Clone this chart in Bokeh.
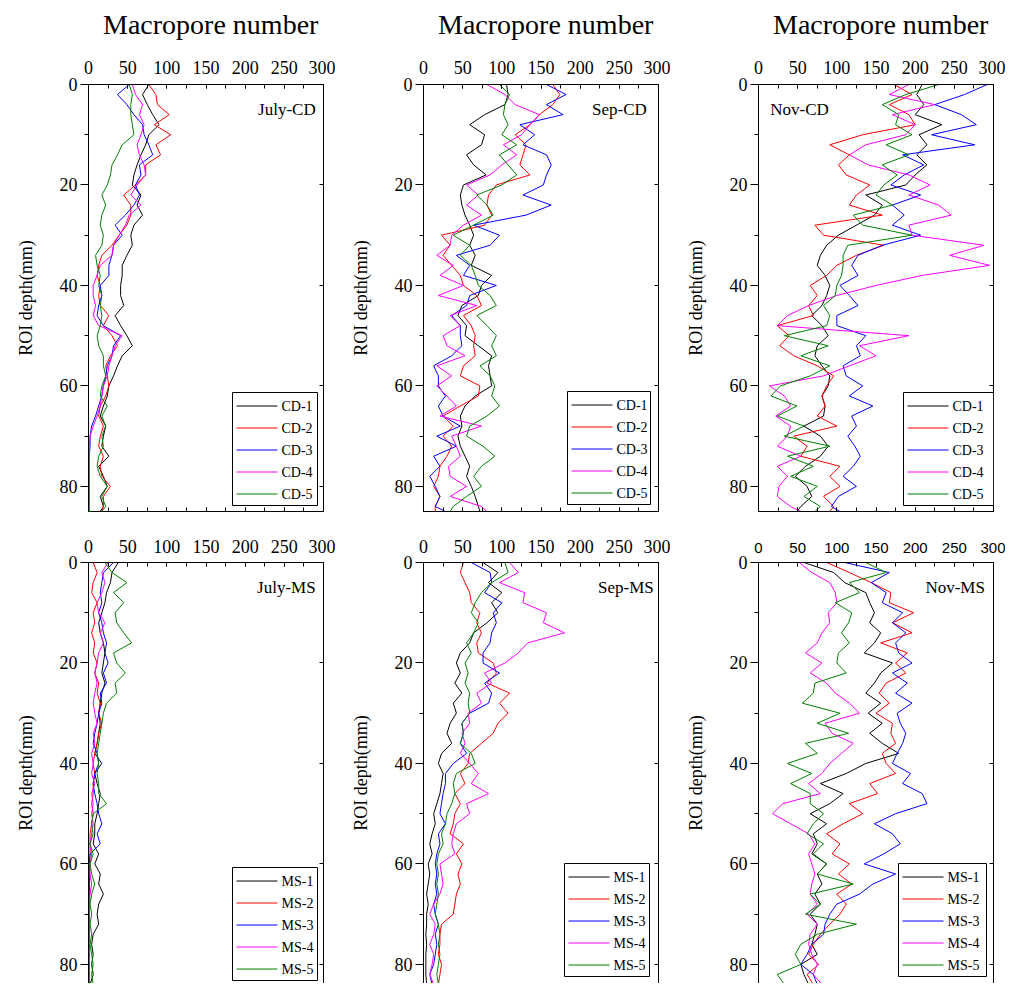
from bokeh.plotting import figure
from bokeh.models import (Range1d, LinearAxis, SingleIntervalTicker, Label,
                          CustomJSTickFormatter, BoxAnnotation, Arrow)
from bokeh.layouts import column, row
from bokeh.embed import file_html
from bokeh.resources import INLINE

SERIF = "Liberation Serif"
SANS = "Liberation Sans"

# ROI depth (mm) sampling of the curves
DEPTH_CD = list(range(0, 85, 2)) + [85]
DEPTH_MS = list(range(0, 85, 2))

CD_NAMES = ["CD-1", "CD-2", "CD-3", "CD-4", "CD-5"]
MS_NAMES = ["MS-1", "MS-2", "MS-3", "MS-4", "MS-5"]
COLORS = ["#000000", "#FF0000", "#0000FF", "#FF00FF", "#008000"]
X_TITLE = "Macropore number"
Y_TITLE = "ROI depth(mm)"

# ---- July CD ----
JULY_CD1 = [77, 69, 75, 82, 90, 77, 73, 67, 62, 58, 56, 67, 62, 69, 58, 54, 56, 49, 43, 43, 41, 41, 45, 34, 41, 49, 56, 43, 37, 32, 26, 24, 19, 15, 22, 19, 17, 26, 13, 19, 24, 15, 19, 15]
JULY_CD2 = [77, 86, 88, 103, 84, 105, 86, 92, 73, 73, 60, 45, 54, 54, 49, 39, 30, 17, 13, 11, 15, 13, 15, 26, 19, 30, 37, 28, 22, 24, 26, 22, 15, 13, 19, 15, 13, 19, 15, 17, 28, 19, 19, 17]
JULY_CD3 = [52, 37, 49, 58, 69, 71, 77, 82, 65, 67, 60, 65, 58, 47, 34, 43, 32, 30, 26, 26, 15, 17, 13, 11, 19, 41, 32, 30, 24, 22, 19, 17, 13, 9, 4, 2, 2, 1, 1, 1, 1, 1, 1, 1]
JULY_CD4 = [56, 60, 69, 65, 71, 67, 62, 65, 71, 73, 62, 54, 67, 52, 47, 39, 32, 30, 15, 11, 6, 6, 9, 6, 13, 43, 34, 30, 26, 24, 19, 17, 15, 11, 6, 2, 1, 1, 1, 1, 1, 1, 1, 1]
JULY_CD5 = [52, 56, 54, 54, 56, 58, 43, 37, 30, 28, 24, 17, 22, 17, 15, 19, 17, 9, 11, 15, 13, 17, 15, 17, 15, 11, 13, 19, 19, 22, 17, 15, 24, 17, 22, 17, 19, 13, 11, 15, 24, 17, 22, 17]

# ---- Sep CD ----
SEP_CD1 = [106, 108, 104, 78, 59, 78, 74, 55, 64, 80, 51, 47, 49, 53, 59, 64, 59, 66, 61, 87, 74, 70, 49, 44, 55, 53, 70, 87, 83, 85, 87, 66, 53, 47, 49, 44, 47, 53, 59, 55, 61, 66, 70, 72]
SEP_CD2 = [165, 174, 165, 148, 136, 117, 131, 127, 123, 136, 93, 83, 81, 87, 78, 23, 34, 25, 36, 47, 51, 68, 74, 51, 61, 66, 64, 66, 51, 47, 72, 70, 47, 25, 38, 25, 36, 30, 21, 19, 13, 21, 15, 15]
SEP_CD3 = [157, 182, 157, 178, 123, 142, 127, 157, 163, 157, 153, 127, 163, 131, 64, 97, 85, 42, 59, 51, 93, 59, 55, 36, 47, 47, 49, 36, 13, 19, 19, 28, 19, 25, 47, 17, 42, 13, 21, 8, 15, 21, 15, 28]
SEP_CD4 = [81, 104, 117, 148, 136, 125, 102, 119, 100, 85, 55, 70, 55, 74, 51, 36, 34, 17, 38, 21, 51, 19, 68, 34, 47, 25, 30, 53, 17, 36, 17, 30, 42, 21, 74, 36, 42, 47, 32, 34, 55, 34, 74, 81]
SEP_CD5 = [97, 110, 104, 102, 108, 100, 119, 97, 108, 119, 100, 68, 81, 89, 64, 38, 59, 47, 61, 66, 70, 85, 93, 68, 81, 93, 87, 93, 72, 85, 91, 87, 97, 81, 59, 55, 76, 91, 74, 64, 74, 55, 38, 34]

# ---- Nov CD ----
NOV_CD1 = [209, 202, 211, 200, 234, 205, 215, 202, 215, 200, 188, 137, 158, 148, 125, 102, 87, 79, 75, 85, 91, 87, 81, 68, 81, 89, 75, 72, 81, 91, 89, 81, 85, 83, 58, 79, 89, 79, 60, 47, 62, 68, 54, 49]
NOV_CD2 = [173, 196, 167, 192, 200, 133, 91, 116, 102, 112, 142, 125, 116, 158, 72, 83, 160, 125, 100, 87, 66, 75, 64, 70, 24, 39, 27, 45, 75, 96, 87, 81, 85, 75, 100, 45, 62, 54, 104, 91, 104, 83, 96, 91]
NOV_CD3 = [292, 263, 225, 259, 278, 221, 276, 184, 211, 186, 169, 207, 171, 186, 171, 207, 158, 127, 119, 127, 104, 116, 127, 100, 100, 137, 125, 130, 108, 112, 133, 116, 146, 119, 125, 114, 123, 130, 121, 108, 125, 102, 93, 104]
NOV_CD4 = [192, 167, 225, 171, 200, 188, 137, 116, 140, 192, 219, 192, 230, 246, 192, 196, 288, 244, 295, 209, 150, 100, 64, 37, 24, 192, 129, 150, 116, 83, 14, 33, 41, 22, 41, 37, 24, 54, 24, 37, 26, 24, 41, 54]
NOV_CD5 = [230, 188, 158, 179, 175, 196, 163, 192, 158, 177, 160, 150, 171, 121, 133, 196, 114, 108, 108, 106, 100, 98, 83, 91, 87, 33, 89, 54, 91, 66, 28, 16, 49, 24, 58, 33, 91, 37, 70, 41, 75, 58, 79, 72]

# ---- July MS ----
JULY_MS1 = [38, 30, 28, 23, 21, 17, 13, 15, 19, 21, 19, 17, 21, 17, 15, 13, 15, 13, 11, 8, 17, 8, 11, 15, 13, 11, 8, 8, 6, 13, 8, 15, 13, 19, 13, 11, 13, 6, 4, 6, 4, 6, 2]
JULY_MS2 = [6, 11, 6, 4, 11, 6, 8, 4, 8, 6, 11, 8, 13, 11, 15, 13, 17, 13, 11, 8, 6, 8, 6, 6, 4, 6, 4, 2, 2, 2, 1, 1, 1, 1, 1, 1, 1, 1, 1, 1, 1, 1, 1]
JULY_MS3 = [32, 19, 17, 15, 17, 13, 17, 19, 23, 21, 25, 19, 23, 15, 17, 13, 11, 8, 6, 11, 13, 8, 6, 8, 11, 13, 17, 11, 15, 2, 1, 1, 1, 1, 1, 1, 1, 1, 1, 1, 1, 1, 1]
JULY_MS4 = [25, 17, 21, 17, 11, 13, 21, 15, 19, 13, 11, 8, 11, 8, 6, 8, 11, 6, 8, 4, 6, 4, 8, 4, 6, 4, 6, 4, 2, 4, 2, 2, 4, 2, 1, 1, 1, 1, 1, 1, 1, 1, 1]
JULY_MS5 = [21, 30, 49, 32, 45, 34, 36, 45, 55, 32, 36, 47, 34, 36, 23, 19, 17, 15, 13, 11, 13, 11, 13, 13, 23, 6, 4, 6, 2, 6, 2, 4, 8, 4, 2, 4, 2, 4, 2, 4, 6, 4, 6]

# ---- Sep MS ----
SEP_MS1 = [76, 95, 83, 100, 87, 95, 81, 64, 59, 47, 42, 47, 40, 49, 38, 42, 34, 30, 36, 23, 19, 25, 23, 21, 17, 13, 15, 11, 8, 11, 6, 8, 6, 4, 6, 4, 4, 3, 4, 3, 3, 3, 4]
SEP_MS2 = [51, 47, 53, 59, 61, 72, 68, 74, 68, 70, 89, 93, 81, 110, 97, 108, 95, 89, 74, 59, 57, 47, 53, 40, 47, 40, 38, 34, 51, 42, 49, 44, 47, 42, 40, 38, 23, 21, 21, 19, 23, 21, 19]
SEP_MS3 = [61, 85, 87, 78, 100, 89, 93, 87, 85, 76, 76, 97, 78, 87, 83, 59, 49, 51, 47, 55, 38, 28, 28, 25, 23, 21, 28, 19, 21, 17, 15, 17, 15, 17, 13, 15, 19, 15, 17, 15, 13, 8, 11]
SEP_MS4 = [110, 121, 97, 129, 127, 157, 153, 180, 133, 121, 104, 78, 87, 68, 74, 57, 59, 49, 53, 47, 59, 70, 61, 83, 55, 59, 42, 38, 36, 40, 21, 23, 25, 21, 13, 8, 15, 13, 8, 13, 11, 8, 13]
SEP_MS5 = [104, 108, 87, 74, 66, 61, 70, 64, 55, 61, 53, 57, 53, 59, 57, 59, 49, 51, 47, 61, 66, 42, 38, 40, 36, 30, 28, 23, 25, 19, 17, 19, 17, 19, 17, 15, 19, 21, 19, 21, 19, 17, 19]

# ---- Nov MS ----
NOV_MS1 = [58, 96, 110, 137, 142, 148, 142, 156, 148, 135, 171, 156, 148, 137, 156, 140, 158, 142, 158, 179, 137, 112, 79, 108, 91, 66, 87, 70, 75, 68, 87, 75, 81, 72, 79, 66, 75, 72, 68, 75, 54, 58, 64]
NOV_MS2 = [87, 116, 144, 169, 167, 198, 171, 196, 156, 190, 175, 188, 163, 154, 167, 150, 171, 169, 175, 158, 163, 175, 142, 152, 116, 133, 108, 87, 104, 94, 116, 102, 119, 100, 112, 104, 91, 79, 70, 64, 77, 62, 70]
NOV_MS3 = [110, 167, 144, 163, 158, 184, 171, 188, 175, 179, 196, 171, 190, 175, 196, 177, 181, 188, 184, 177, 171, 194, 184, 209, 215, 175, 148, 171, 181, 160, 135, 175, 146, 129, 100, 91, 85, 83, 68, 62, 54, 70, 75]
NOV_MS4 = [52, 68, 91, 98, 100, 89, 91, 81, 75, 60, 81, 66, 87, 98, 116, 129, 85, 94, 121, 106, 91, 81, 64, 79, 31, 18, 41, 64, 72, 64, 68, 72, 68, 66, 75, 62, 75, 66, 64, 68, 75, 70, 81]
NOV_MS5 = [137, 163, 116, 129, 98, 119, 115, 106, 116, 102, 100, 112, 72, 70, 56, 104, 75, 115, 60, 75, 37, 68, 41, 66, 66, 83, 70, 62, 83, 70, 87, 75, 121, 66, 79, 60, 125, 75, 54, 47, 54, 24, 33]

BLANK = CustomJSTickFormatter(code="return ''")

FRAME_W = 235       # px width of each plot frame
PX_PER_MM = 5.0235  # px per mm of depth
HEAD_H = 46         # px height of the heading strip


def px2x(px):
    return px * 300.0 / FRAME_W


def px2y(px):
    return px / PX_PER_MM


def make_axis(interval, maj_in, maj_out, min_in, min_out, labels=True,
              font=SERIF, size="18px", standoff=4):
    ax = LinearAxis(ticker=SingleIntervalTicker(interval=interval, num_minor_ticks=2))
    ax.major_tick_in = maj_in
    ax.major_tick_out = maj_out
    ax.minor_tick_in = min_in
    ax.minor_tick_out = min_out
    ax.axis_line_color = "black"
    ax.major_tick_line_color = "black"
    ax.minor_tick_line_color = "black" if (min_in or min_out) else None
    ax.major_label_text_font = font
    ax.major_label_text_font_size = size
    ax.major_label_text_color = "black"
    ax.major_label_standoff = standoff
    if not labels:
        ax.formatter = BLANK
        ax.major_label_standoff = 0
    return ax


def heading():
    h = figure(width=335, height=HEAD_H, x_range=Range1d(0, 300), y_range=Range1d(HEAD_H, 0),
               x_axis_location=None, y_axis_location=None, toolbar_location=None,
               output_backend="svg", min_border_left=88, min_border_right=12,
               min_border_top=0, min_border_bottom=0)
    h.title = None
    h.xgrid.visible = False
    h.ygrid.visible = False
    h.outline_line_color = None
    h.add_layout(Label(x=156, y=23.5, text=X_TITLE, text_align="center",
                       text_baseline="middle", text_font=SERIF,
                       text_font_size="28px", text_color="black"))
    return h


def add_legend(p, names, box_left, box_right, box_top):
    # legend box geometry in px relative to frame, converted to data units
    box_h = 113
    p.add_layout(BoxAnnotation(left=px2x(box_left), right=px2x(box_right),
                               top=px2y(box_top), bottom=px2y(box_top + box_h),
                               fill_color="white", fill_alpha=1,
                               line_color="black", line_width=1, line_alpha=1))
    for i, (name, col) in enumerate(zip(names, COLORS)):
        yc = px2y(box_top + 13.5 + 22 * i)
        p.add_layout(Arrow(end=None, x_start=px2x(box_left + 4), x_end=px2x(box_left + 45),
                           y_start=yc, y_end=yc, line_color=col, line_width=1))
        p.add_layout(Label(x=px2x(box_left + 49), y=yc, text=name, text_align="left",
                           text_baseline="middle", text_font=SERIF,
                           text_font_size="14px", text_color="black"))


def panel(depth, series, names, tag, tag_x, tag_align, top_row, leg_geom,
          xfont=SERIF, xsize="18px"):
    if top_row:
        h, bt, bb, yr, so = 531 - HEAD_H, 84 - HEAD_H, 20, Range1d(85, 0), 11
    else:
        h, bt, bb, yr, so = 452, 31, 0, Range1d(83.8, 0), 10
    p = figure(width=335, height=h, x_range=Range1d(0, 300), y_range=yr,
               x_axis_location=None, y_axis_location=None,
               toolbar_location=None, output_backend="svg",
               min_border_left=88, min_border_right=12,
               min_border_top=bt, min_border_bottom=bb)
    p.title = None
    p.xgrid.visible = False
    p.ygrid.visible = False
    p.background_fill_color = "white"
    p.border_fill_color = "white"
    if top_row:
        p.outline_line_color = "black"
        p.outline_line_width = 1
    else:
        p.outline_line_color = None

    top = make_axis(50, 4, 0, 4, 0, font=xfont, size=xsize, standoff=so)
    p.add_layout(top, "above")
    left = make_axis(20, 0, 8, 0, 4, standoff=3)
    left.axis_label = Y_TITLE
    left.axis_label_text_font = SERIF
    left.axis_label_text_font_size = "18px"
    left.axis_label_text_font_style = "normal"
    left.axis_label_text_color = "black"
    left.axis_label_standoff = 21
    p.add_layout(left, "left")
    right = make_axis(20, 4, 0, 0, 0, labels=False)
    p.add_layout(right, "right")
    if top_row:
        bottom = make_axis(50, 4, 0, 4, 0, labels=False)
        p.add_layout(bottom, "below")

    for vals, col in zip(series, COLORS):
        p.line(vals, depth, line_color=col, line_width=1)

    add_legend(p, names, *leg_geom)

    p.add_layout(Label(x=tag_x, y=5.04, text=tag, text_align=tag_align,
                       text_baseline="middle", text_font=SERIF,
                       text_font_size="17px", text_color="black"))
    return p


p1 = panel(DEPTH_CD, [JULY_CD1, JULY_CD2, JULY_CD3, JULY_CD4, JULY_CD5], CD_NAMES,
           "July-CD", 290, "right", True, (144, 229, 308))
p2 = panel(DEPTH_CD, [SEP_CD1, SEP_CD2, SEP_CD3, SEP_CD4, SEP_CD5], CD_NAMES,
           "Sep-CD", 285, "right", True, (144, 227, 307))
p3 = panel(DEPTH_CD, [NOV_CD1, NOV_CD2, NOV_CD3, NOV_CD4, NOV_CD5], CD_NAMES,
           "Nov-CD", 15, "left", True, (145, 235, 308))
p4 = panel(DEPTH_MS, [JULY_MS1, JULY_MS2, JULY_MS3, JULY_MS4, JULY_MS5], MS_NAMES,
           "July-MS", 290, "right", False, (144, 229, 305))
p5 = panel(DEPTH_MS, [SEP_MS1, SEP_MS2, SEP_MS3, SEP_MS4, SEP_MS5], MS_NAMES,
           "Sep-MS", 294, "right", False, (141, 226, 301))
p6 = panel(DEPTH_MS, [NOV_MS1, NOV_MS2, NOV_MS3, NOV_MS4, NOV_MS5], MS_NAMES,
           "Nov-MS", 289, "right", False, (140, 228, 301), xfont=SANS, xsize="15px")

layout = column(row(heading(), heading(), heading()),
                row(p1, p2, p3), row(p4, p5, p6))
open("out.html", "w").write(file_html(layout, INLINE))
